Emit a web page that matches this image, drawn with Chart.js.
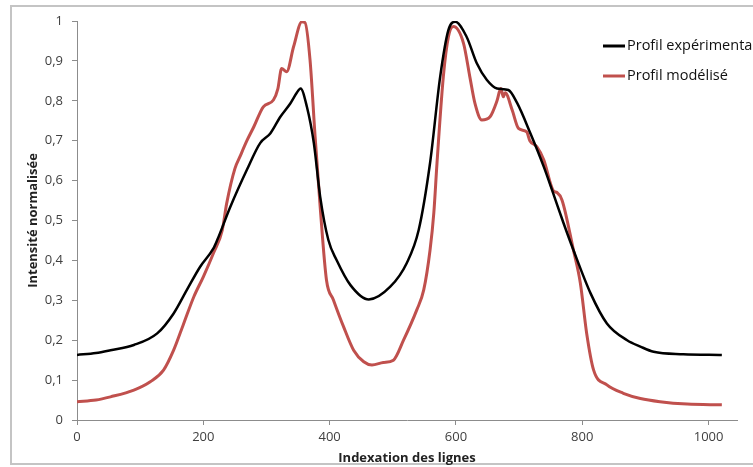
<!DOCTYPE html>
<html>
<head>
<meta charset="utf-8">
<script src="https://cdn.jsdelivr.net/npm/chart.js@4/dist/chart.umd.min.js"></script>
<style>
  body { margin: 0; background: #fff; overflow: hidden; }
  canvas { display: block; }
</style>
</head>
<body>
<canvas id="chart" width="753" height="467"></canvas>
<script>
// Profil expérimental (black)
const expX = [0, 30, 53, 90, 127, 153, 174, 195, 216, 222, 243, 269, 290, 306, 322, 338, 348, 354, 364, 375, 385, 398, 411, 433, 462, 496, 522, 541, 559, 575, 588, 599, 617, 633, 649, 665, 683, 697, 718, 739, 754, 770, 786, 813, 839, 871, 892, 913, 960, 1021];
const expY = [0.163, 0.168, 0.175, 0.188, 0.217, 0.267, 0.326, 0.384, 0.43, 0.451, 0.535, 0.627, 0.694, 0.718, 0.76, 0.794, 0.82, 0.831, 0.785, 0.694, 0.56, 0.451, 0.401, 0.338, 0.302, 0.334, 0.393, 0.476, 0.644, 0.86, 0.977, 0.998, 0.96, 0.894, 0.852, 0.831, 0.827, 0.794, 0.718, 0.635, 0.568, 0.495, 0.426, 0.318, 0.242, 0.20, 0.184, 0.171, 0.165, 0.163];

// Profil modélisé (red)
const modX = [0, 30, 53, 90, 116, 137, 153, 169, 185, 200, 216, 230, 237, 250, 258, 269, 280, 295, 311, 318, 324, 332, 343, 356, 361, 369, 377, 385, 395, 406, 422, 438, 454, 467, 485, 501, 517, 538, 549, 559, 565, 570, 580, 588, 596, 612, 622, 630, 641, 654, 665, 671, 675, 678, 689, 699, 712, 717, 728, 739, 754, 760, 768, 786, 797, 807, 818, 839, 865, 892, 923, 966, 1021];
const modY = [0.046, 0.05, 0.058, 0.075, 0.096, 0.125, 0.175, 0.242, 0.309, 0.359, 0.418, 0.476, 0.543, 0.63, 0.66, 0.70, 0.735, 0.785, 0.802, 0.83, 0.881, 0.873, 0.936, 0.998, 0.996, 0.902, 0.71, 0.535, 0.351, 0.301, 0.234, 0.175, 0.146, 0.138, 0.144, 0.15, 0.2, 0.276, 0.326, 0.426, 0.52, 0.644, 0.86, 0.96, 0.986, 0.944, 0.86, 0.794, 0.752, 0.76, 0.80, 0.831, 0.81, 0.82, 0.777, 0.731, 0.722, 0.70, 0.685, 0.652, 0.575, 0.57, 0.551, 0.426, 0.343, 0.217, 0.125, 0.088, 0.067, 0.054, 0.046, 0.04, 0.038];

const seriesNames = ["Profil expérimental", "Profil modélisé"];
const xTicks = [0, 200, 400, 600, 800, 1000];

const toPoints = (xs, ys) => xs.map((x, i) => ({ x: x, y: ys[i] }));

// grey frame around the picture
const framePlugin = {
  id: "frame",
  beforeDraw(chart) {
    const ctx = chart.ctx;
    ctx.save();
    ctx.fillStyle = "#fff";
    ctx.fillRect(0, 0, chart.width, chart.height);
    ctx.strokeStyle = "#c4c4c4";
    ctx.lineWidth = 2;
    ctx.strokeRect(11, 6, 780, 458);
    ctx.restore();
  }
};

// legend drawn inside the plot, top right
const legendPlugin = {
  id: "insideLegend",
  afterDraw(chart) {
    const ctx = chart.ctx;
    const x0 = chart.chartArea.right - 134;
    ctx.save();
    ctx.font = "14.5px 'Open Sans'";
    ctx.textBaseline = "middle";
    chart.data.datasets.forEach((ds, i) => {
      const y = 46 + i * 30;
      ctx.strokeStyle = ds.borderColor;
      ctx.lineWidth = 3;
      ctx.beginPath();
      ctx.moveTo(x0, y);
      ctx.lineTo(x0 + 22, y);
      ctx.stroke();
      ctx.fillStyle = "#111";
      ctx.fillText(ds.label, x0 + 24, y);
    });
    ctx.restore();
  }
};

new Chart(document.getElementById("chart"), {
  type: "line",
  data: {
    datasets: [
      {
        label: seriesNames[0],
        data: toPoints(expX, expY),
        borderColor: "#000000",
        borderWidth: 2.5,
        pointRadius: 0,
        cubicInterpolationMode: "monotone",
      },
      {
        label: seriesNames[1],
        data: toPoints(modX, modY),
        borderColor: "#c0504d",
        borderWidth: 3,
        pointRadius: 0,
        cubicInterpolationMode: "monotone",
      },
    ],
  },
  options: {
    responsive: false,
    animation: false,
    devicePixelRatio: 1,
    layout: { padding: { top: 21, right: 16, left: 0, bottom: 0 } },
    plugins: {
      legend: { display: false },
      tooltip: { enabled: false },
    },
    scales: {
      x: {
        type: "linear",
        min: 0,
        max: 1045,
        afterBuildTicks: (scale) => {
          scale.ticks = xTicks.map((v) => ({ value: v }));
        },
        afterFit: (scale) => { scale.height = 47; },
        grid: { drawOnChartArea: false, tickLength: 5, color: "#8c8c8c" },
        border: { color: "#8c8c8c", width: 1 },
        ticks: {
          color: "#404040",
          font: { family: "Open Sans", size: 13 },
          padding: 4,
          maxRotation: 0,
          callback: (v) => String(v),
        },
        title: {
          display: true,
          text: "Indexation des lignes",
          color: "#222",
          font: { family: "Open Sans", size: 13, weight: "bold" },
          padding: { top: 0, bottom: 1 },
        },
      },
      y: {
        min: 0,
        max: 1,
        afterFit: (scale) => { scale.width = 77; },
        grid: { drawOnChartArea: false, tickLength: 5, color: "#8c8c8c" },
        border: { color: "#8c8c8c", width: 1 },
        ticks: {
          stepSize: 0.1,
          color: "#404040",
          font: { family: "Open Sans", size: 13 },
          padding: 9,
          callback: (v) => String(Number(v.toFixed(1))).replace(".", ","),
        },
        title: {
          display: true,
          text: "Intensité normalisée",
          color: "#222",
          font: { family: "Open Sans", size: 13, weight: "bold" },
          padding: { top: 25, bottom: 0 },
        },
      },
    },
  },
  plugins: [framePlugin, legendPlugin],
});
</script>
</body>
</html>
